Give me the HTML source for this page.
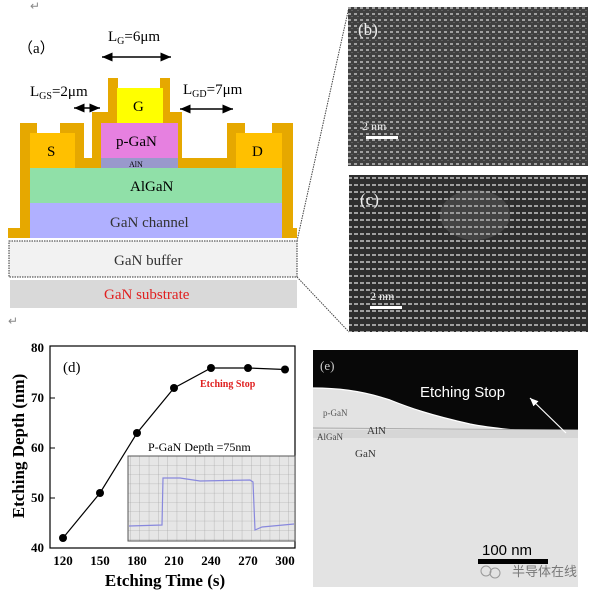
<!DOCTYPE html>
<html><head><meta charset="utf-8"><style>
body{margin:0;background:#fff;width:605px;height:598px;overflow:hidden}
svg{display:block}
text{font-family:"Liberation Serif",serif}
</style></head><body>
<svg width="605" height="598" viewBox="0 0 605 598" xmlns="http://www.w3.org/2000/svg">
<defs>
<pattern id="lat" width="6" height="6" patternUnits="userSpaceOnUse">
<rect width="6" height="6" fill="#404040"/>
<rect x="0" y="1" width="3" height="2" fill="#a0a0a0"/>
<rect x="3" y="4" width="2" height="1" fill="#606060"/>
</pattern>
<pattern id="lat2" width="6" height="7" patternUnits="userSpaceOnUse">
<rect width="6" height="7" fill="#2e2e2e"/>
<rect x="0" y="2" width="4" height="2" fill="#a0a0a0"/>
</pattern>
<pattern id="grid" width="9.3" height="9.3" patternUnits="userSpaceOnUse">
<rect width="9.3" height="9.3" fill="#e6e6e6"/>
<path d="M0 0H9.3M0 0V9.3" stroke="#9a9a9a" stroke-width="0.6"/>
</pattern>
<marker id="ah" markerWidth="8" markerHeight="8" refX="7" refY="4" orient="auto-start-reverse"><path d="M0,1 L7,4 L0,7z" fill="#000"/></marker>
<marker id="wa" markerWidth="8" markerHeight="8" refX="7" refY="4" orient="auto"><path d="M0,1 L7,4 L0,7z" fill="#fff"/></marker>
</defs>

<!-- Panel a -->
<text x="30" y="10" font-size="12" fill="#888">↵</text>
<text x="18" y="53" font-size="15">（a）</text>
<text x="108" y="41" font-size="15">L<tspan font-size="10" dy="3">G</tspan><tspan dy="-3">=6μm</tspan></text>
<line x1="102" y1="57" x2="171" y2="57" stroke="#000" stroke-width="1.5" marker-start="url(#ah)" marker-end="url(#ah)"/>
<text x="30" y="96" font-size="15">L<tspan font-size="10" dy="3">GS</tspan><tspan dy="-3">=2μm</tspan></text>
<line x1="74" y1="108" x2="100" y2="108" stroke="#000" stroke-width="1.5" marker-start="url(#ah)" marker-end="url(#ah)"/>
<text x="183" y="94" font-size="15">L<tspan font-size="10" dy="3">GD</tspan><tspan dy="-3">=7μm</tspan></text>
<line x1="180" y1="109" x2="233" y2="109" stroke="#000" stroke-width="1.5" marker-start="url(#ah)" marker-end="url(#ah)"/>

<path d="M8 238 V228 H20 V123 H37 V133 H60 V123 H84 V158 H92 V112 H108 V78 H118 V88 H160 V78 H170 V112 H182 V158 H227 V123 H245 V133 H272 V123 H293 V228 H297 V238 Z" fill="#e6a800"/>
<rect x="30" y="133" width="45" height="35" fill="#ffc000"/>
<text x="47" y="156" font-size="15">S</text>
<rect x="236" y="133" width="46" height="35" fill="#ffc000"/>
<text x="252" y="156" font-size="15">D</text>
<rect x="117" y="88" width="46" height="35" fill="#ffff00"/>
<text x="133" y="111" font-size="15">G</text>
<rect x="101" y="123" width="77" height="35" fill="#e680e0"/>
<text x="116" y="146" font-size="15">p-GaN</text>
<rect x="101" y="158" width="77" height="10" fill="#9999cc"/>
<text x="129" y="167" font-size="8">AlN</text>
<rect x="30" y="168" width="252" height="35" fill="#90e0a8"/>
<text x="130" y="191" font-size="15">AlGaN</text>
<rect x="30" y="203" width="252" height="35" fill="#b0b0ff"/>
<text x="110" y="227" font-size="15" fill="#333">GaN channel</text>
<rect x="9" y="241" width="288" height="36" fill="#f2f2f2" stroke="#333" stroke-width="1" stroke-dasharray="1.5,1"/>
<text x="114" y="265" font-size="15" fill="#333">GaN buffer</text>
<rect x="10" y="280" width="287" height="28" fill="#d9d9d9"/>
<text x="104" y="299" font-size="15" fill="#e02020">GaN substrate</text>
<text x="8" y="325" font-size="12" fill="#888">↵</text>
<line x1="297" y1="241" x2="349" y2="7" stroke="#444" stroke-dasharray="1.5,1"/>
<line x1="297" y1="277" x2="349" y2="332" stroke="#444" stroke-dasharray="1.5,1"/>

<!-- b, c -->
<rect x="348" y="7" width="240" height="159" fill="url(#lat)"/>
<text x="358" y="35" font-size="17" fill="#eee">(b)</text>
<text x="362" y="130" font-size="12" fill="#eee">2 nm</text>
<rect x="366" y="136" width="32" height="3" fill="#fff"/>
<rect x="349" y="175" width="239" height="157" fill="url(#lat2)"/>
<ellipse cx="475" cy="215" rx="35" ry="25" fill="#888" opacity="0.25"/>
<text x="360" y="205" font-size="17" fill="#eee">(c)</text>
<text x="370" y="300" font-size="12" fill="#eee">2 nm</text>
<rect x="370" y="306" width="32" height="3" fill="#fff"/>

<!-- Panel d -->
<rect x="50" y="346" width="245" height="202" fill="none" stroke="#000" stroke-width="1.2"/>
<g font-size="13" font-weight="bold" text-anchor="end">
<text x="44" y="352">80</text><text x="44" y="402">70</text><text x="44" y="452">60</text><text x="44" y="502">50</text><text x="44" y="552">40</text>
</g>
<g stroke="#000"><line x1="50" y1="398" x2="55" y2="398"/><line x1="50" y1="448" x2="55" y2="448"/><line x1="50" y1="498" x2="55" y2="498"/></g>
<g font-size="13" font-weight="bold" text-anchor="middle">
<text x="63" y="565">120</text><text x="100" y="565">150</text><text x="137" y="565">180</text><text x="174" y="565">210</text><text x="211" y="565">240</text><text x="248" y="565">270</text><text x="285" y="565">300</text>
</g>
<text x="165" y="586" font-size="17" font-weight="bold" text-anchor="middle">Etching Time (s)</text>
<text transform="translate(24,446) rotate(-90)" font-size="17" font-weight="bold" text-anchor="middle">Etching Depth (nm)</text>
<text x="63" y="372" font-size="15">(d)</text>
<polyline points="63,538 100,493 137,433 174,388 211,368 248,368 285,369.5" fill="none" stroke="#000" stroke-width="1.2"/>
<g fill="#000"><circle cx="63" cy="538" r="4"/><circle cx="100" cy="493" r="4"/><circle cx="137" cy="433" r="4"/><circle cx="174" cy="388" r="4"/><circle cx="211" cy="368" r="4"/><circle cx="248" cy="368" r="4"/><circle cx="285" cy="369.5" r="4"/></g>
<text x="200" y="387" font-size="10" font-weight="bold" fill="#e02020">Etching Stop</text>
<text x="148" y="451" font-size="12">P-GaN Depth =75nm</text>
<rect x="128" y="456" width="167" height="85" fill="url(#grid)" stroke="#555"/>
<polyline points="129,526 162,525 163,478 180,478 200,481 250,480 253,482 255,530 262,527 294,524" fill="none" stroke="#8888dd" stroke-width="1.2"/>

<!-- Panel e -->
<rect x="313" y="350" width="265" height="237" fill="#e3e3e3"/>
<path d="M313 350 H578 V435 C550 433 500 430 470 424 C430 415 410 408 390 400 C360 390 335 388 313 388 Z" fill="#080808"/>
<path d="M313 388 C335 388 360 390 390 400 C410 408 430 415 470 424 C500 430 550 433 578 435" fill="none" stroke="#fff" stroke-width="1.2"/>
<line x1="313" y1="428" x2="578" y2="430" stroke="#aaa" stroke-width="1"/>
<rect x="313" y="430" width="265" height="8" fill="#d6d6d6"/>
<text x="320" y="370" font-size="13" fill="#ccc">(e)</text>
<text x="420" y="397" font-size="15" fill="#fff" style="font-family:'Liberation Sans',sans-serif">Etching Stop</text>
<line x1="566" y1="433" x2="530" y2="398" stroke="#fff" stroke-width="1.2" marker-end="url(#wa)"/>
<text x="323" y="416" font-size="9" fill="#555">p-GaN</text>
<text x="317" y="440" font-size="9" fill="#444">AlGaN</text>
<text x="367" y="434" font-size="11" fill="#333">AlN</text>
<text x="355" y="457" font-size="11" fill="#333">GaN</text>
<text x="482" y="555" font-size="15" fill="#000" style="font-family:'Liberation Sans',sans-serif">100 nm</text>
<rect x="478" y="559" width="70" height="5" fill="#000"/>
<circle cx="486" cy="571" r="5" fill="none" stroke="#999"/>
<circle cx="495" cy="573" r="5" fill="none" stroke="#999"/>
<text x="512" y="576" font-size="13" fill="#777" style="font-family:'Liberation Sans','Noto Sans CJK SC',sans-serif">半导体在线</text>
</svg>
</body></html>
